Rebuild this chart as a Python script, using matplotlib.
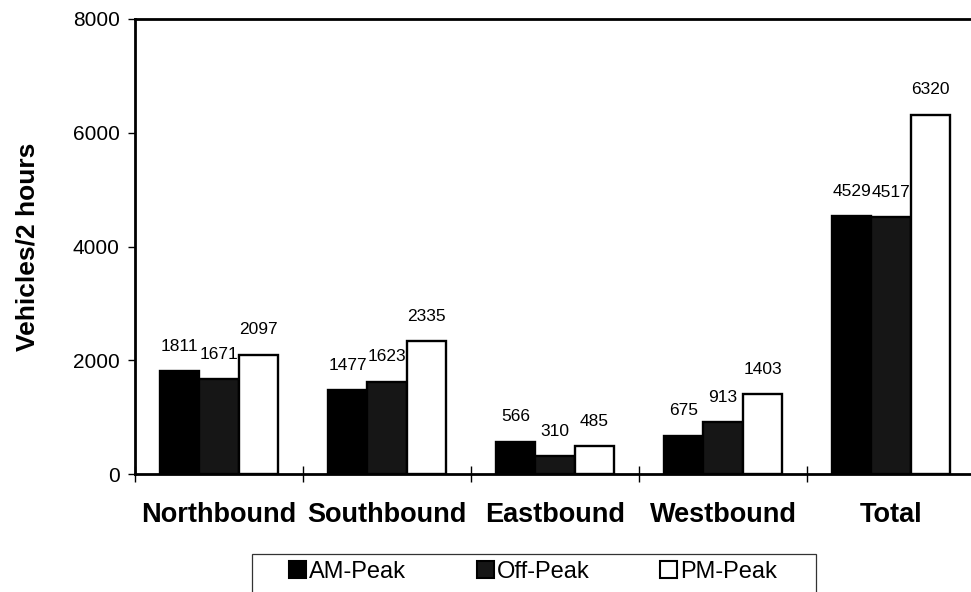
import matplotlib
matplotlib.use("Agg")
import matplotlib.pyplot as plt
from matplotlib.patches import Patch, Rectangle
import numpy as np

plt.rcParams['font.family'] = ['Liberation Sans', 'DejaVu Sans']

# Two-hour traffic counts by direction
directions = ['Northbound', 'Southbound', 'Eastbound', 'Westbound', 'Total']
am_peak = [1811, 1477, 566, 675, 4529]
off_peak = [1671, 1623, 310, 913, 4517]
pm_peak = [2097, 2335, 485, 1403, 6320]

series = [
    ('AM-Peak', am_peak, '#000000'),
    ('Off-Peak', off_peak, '#161616'),
    ('PM-Peak', pm_peak, '#ffffff'),
]

fig = plt.figure(figsize=(9.71, 5.92), dpi=100)
ax = fig.add_axes([135 / 971, 118 / 592, 840 / 971, 455 / 592])

x = np.arange(len(directions))
width = 0.235

for i, (name, vals, col) in enumerate(series):
    pos = x + (i - 1) * width
    ax.bar(pos, vals, width, color=col, edgecolor='black', linewidth=1.7, label=name)
    for px, v in zip(pos, vals):
        ax.annotate(str(v), (px, v), xytext=(0, 12.5), textcoords='offset points',
                    ha='center', va='bottom', fontsize=12.5)

ax.set_xlim(-0.5, len(directions) - 0.5)
ax.set_ylim(0, 8000)
ax.set_yticks([0, 2000, 4000, 6000, 8000])
ax.tick_params(axis='y', direction='out', length=5, width=1, labelsize=15, pad=6)

# boundary ticks between groups, labels at group centres
ax.set_xticks(np.arange(len(directions) + 1) - 0.5)
ax.set_xticklabels([])
ax.tick_params(axis='x', which='major', direction='inout', length=11, width=1)
ax.set_xticks(x, minor=True)
ax.set_xticklabels(directions, minor=True, fontsize=19.5, fontweight='bold')
ax.tick_params(axis='x', which='minor', length=0, pad=20)

for s in ax.spines.values():
    s.set_linewidth(2)

ax.set_ylabel('Vehicles/2 hours', fontsize=19, fontweight='bold')
ax.yaxis.set_label_coords(-0.114, 0.5)

handles = [Patch(facecolor=c, edgecolor='black', linewidth=1.5, label=n) for n, _, c in series]
fig.legend(handles=handles, loc='center left', bbox_to_anchor=(289 / 971, 20 / 592),
           ncol=3, frameon=False, fontsize=17, handlelength=0.72, handleheight=0.72,
           handletextpad=0.12, columnspacing=3.0, borderpad=0, borderaxespad=0)
fig.patches.append(Rectangle((252 / 971, -8 / 592), 564 / 971, 46 / 592,
                             transform=fig.transFigure, fill=False,
                             edgecolor='#333333', linewidth=0.9))

plt.savefig('out.png', dpi=100)
